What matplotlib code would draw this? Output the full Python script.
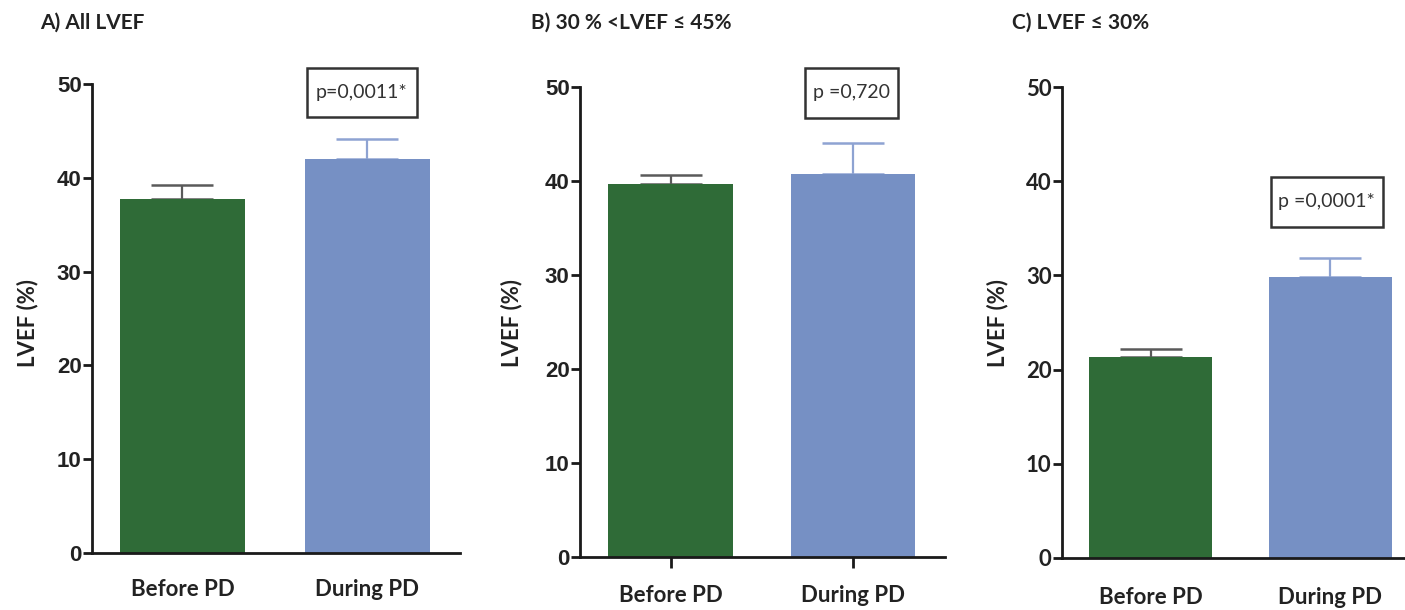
import numpy as np
import matplotlib.pyplot as plt
from matplotlib.patches import Rectangle

# data
groups = ["Before PD", "During PD"]
titles = ["A) All LVEF", "B) 30 % <LVEF \u2264 45%", "C) LVEF \u2264 30%"]
means_a = [37.7, 42.0]
sem_a = [1.5, 2.1]
means_b = [39.7, 40.7]
sem_b = [0.9, 3.3]
means_c = [21.3, 29.8]
sem_c = [0.9, 2.0]
p_labels = ["p=0,0011*", "p =0,720", "p =0,0001*"]
p_pos = [(0.97, 49.1), (0.99, 49.4), (0.98, 37.8)]
p_box_px = [(110, 49), (93, 50), (112, 50)]

bar_colors = ["#2f6b37", "#7690c4"]
err_colors = ["#5a5a5a", "#8ea3d2"]

W, H = 1405, 610
fig = plt.figure(figsize=(W / 100, H / 100), dpi=100)

# axes boxes in pixels: left, right, top, bottom, xlim
boxes = [
    (92, 460, 84, 553, (-0.489, 1.50)),
    (580, 945, 87, 557, (-0.496, 1.504)),
    (1062, 1405, 87, 558, (-0.492, 1.414)),
]
title_x = [40, 531, 1012]
ylabel_x = [28, 512, 998]
xlabel_pad = [19, 12, 21]
tick_fonts = ["Liberation Sans", "Liberation Sans", "Lato"]

means = [means_a, means_b, means_c]
sems = [sem_a, sem_b, sem_c]

for i in range(3):
    l, r, t, b, xl = boxes[i]
    ax = fig.add_axes([l / W, 1 - b / H, (r - l) / W, (b - t) / H])
    x = np.arange(len(groups))
    ax.bar(x, means[i], width=0.68, color=bar_colors, zorder=2)
    for j in range(len(groups)):
        ax.errorbar(x[j], means[i][j], yerr=[[0], [sems[i][j]]], fmt="none",
                    ecolor=err_colors[j], elinewidth=1.6, capsize=22,
                    capthick=1.8, zorder=1)
    ax.set_xlim(*xl)
    ax.set_ylim(0, 50)
    ax.set_yticks([0, 10, 20, 30, 40, 50])
    ax.set_xticks(x)
    ax.set_xticklabels(groups, fontfamily="Lato", fontweight="bold",
                       fontsize=16, color="#222222")
    for lab in ax.get_yticklabels():
        lab.set_fontfamily(tick_fonts[i])
        lab.set_fontweight("bold")
        lab.set_fontsize(16)
        lab.set_color("#222222")
    for s in ["top", "right"]:
        ax.spines[s].set_visible(False)
    for s in ["left", "bottom"]:
        ax.spines[s].set_linewidth(2)
        ax.spines[s].set_color("#1a1a1a")
    ax.tick_params(axis="y", length=6.5, width=2, color="#1a1a1a", pad=1)
    if i == 1:
        ax.tick_params(axis="x", length=8, width=2, color="#1a1a1a",
                       pad=xlabel_pad[i])
    else:
        ax.tick_params(axis="x", length=0, pad=xlabel_pad[i])

    # p-value box
    px_x = (r - l) / (xl[1] - xl[0])
    px_y = (b - t) / 50
    bw = p_box_px[i][0] / px_x
    bh = p_box_px[i][1] / px_y
    cx, cy = p_pos[i]
    ax.add_patch(Rectangle((cx - bw / 2, cy - bh / 2), bw, bh, fc="white",
                           ec="#333333", lw=1.8, clip_on=False, zorder=3))
    ax.text(cx, cy, p_labels[i], ha="center", va="center", fontfamily="Lato",
            fontsize=14, color="#333333", clip_on=False, zorder=4)

    fig.text(title_x[i] / W, 1 - 23 / H, titles[i], ha="left", va="center",
             fontfamily="Lato", fontweight="bold", fontsize=15, color="#222222")
    fig.text(ylabel_x[i] / W, 1 - 323 / H, "LVEF (%)", rotation=90,
             ha="center", va="center", fontfamily="Lato", fontweight="bold",
             fontsize=16, color="#222222")

fig.savefig("out.png", dpi=100)
